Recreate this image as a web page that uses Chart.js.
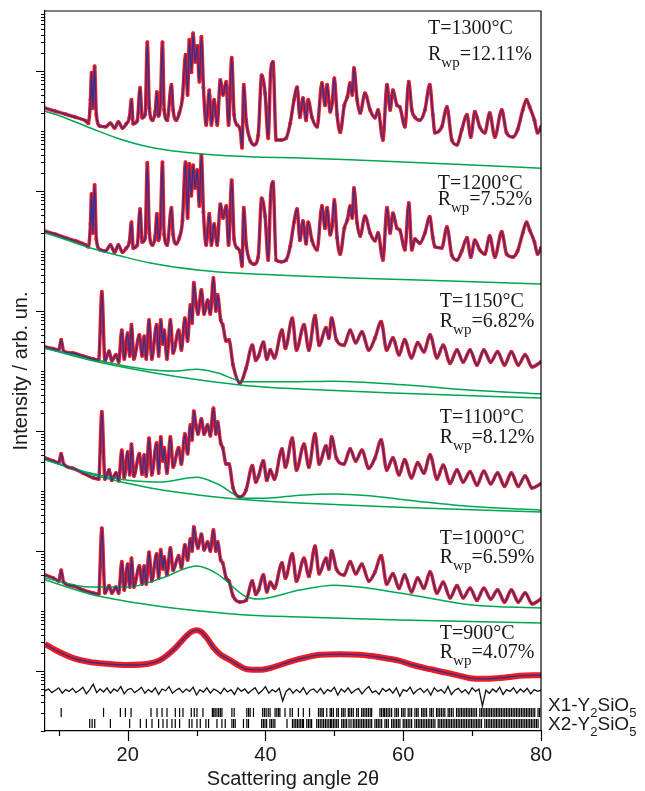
<!DOCTYPE html>
<html>
<head>
<meta charset="utf-8">
<title>Y2SiO5 XRD patterns</title>
<script src="https://cdn.jsdelivr.net/npm/chart.js@4.4.1/dist/chart.umd.min.js"></script>
<style>
  html, body { margin: 0; padding: 0; background: #fff; }
  canvas { display: block; }
</style>
</head>
<body>
<canvas id="xrd" width="645" height="791"></canvas>
<script>
// [2theta (deg), log10 intensity (decades, patterns stacked on the log axis)]
const p1300 = [[8.0,10.38],[9.5,10.33],[11.0,10.28],[12.4,10.23],[13.9,10.17],[14.3,10.13],[14.6,10.52],[14.75,10.97],[14.95,10.38],[15.2,11.08],[15.45,10.27],[16.0,10.08],[16.8,10.07],[17.5,10.13],[18.1,10.05],[18.65,10.15],[19.25,10.05],[19.8,10.12],[20.25,10.22],[20.55,10.52],[20.8,10.12],[21.4,10.17],[21.8,10.72],[22.1,10.22],[22.55,10.28],[22.85,11.48],[23.15,10.38],[23.6,10.18],[24.0,10.32],[24.25,10.65],[24.45,10.25],[24.75,10.45],[25.05,11.48],[25.3,10.35],[25.75,10.18],[26.35,10.77],[26.6,10.35],[27.05,10.18],[27.5,10.30],[27.95,10.55],[28.4,11.27],[28.7,10.60],[28.95,11.52],[29.25,10.98],[29.5,11.63],[29.8,11.15],[30.1,11.42],[30.4,10.82],[30.7,11.57],[31.0,10.72],[31.4,10.10],[31.85,10.68],[32.15,10.10],[32.55,10.52],[33.0,10.10],[33.45,10.85],[33.85,10.60],[34.3,10.82],[34.65,10.10],[35.1,11.22],[35.45,10.27],[35.9,10.10],[36.35,10.02],[36.6,9.72],[36.85,10.77],[37.2,10.18],[37.8,9.85],[38.35,9.77],[38.95,9.93],[39.45,10.93],[39.95,10.63],[40.4,9.88],[40.75,10.97],[41.1,11.15],[41.55,9.85],[42.3,9.85],[43.0,9.88],[43.6,10.13],[44.15,10.52],[44.6,10.73],[45.0,10.23],[45.45,10.55],[45.9,10.18],[46.2,10.52],[46.75,10.23],[47.5,10.07],[48.2,10.80],[48.65,10.43],[48.95,10.77],[49.4,10.32],[49.7,10.47],[50.0,10.88],[50.4,10.27],[50.85,9.98],[51.45,10.43],[51.9,10.57],[52.3,10.80],[52.6,10.60],[52.85,11.05],[53.3,10.52],[53.75,10.30],[54.45,10.63],[55.2,10.35],[55.9,10.22],[56.35,10.35],[57.05,9.85],[57.65,10.77],[58.1,10.35],[58.5,10.68],[59.1,10.43],[59.5,10.40],[60.25,10.07],[60.8,10.82],[61.25,10.35],[61.7,10.23],[62.4,10.18],[63.15,10.35],[63.85,10.77],[64.3,10.27],[64.6,9.97],[65.6,10.07],[66.35,10.40],[67.05,9.85],[67.8,9.77],[68.5,10.02],[69.25,10.27],[69.8,9.90],[70.4,10.32],[71.1,10.07],[71.85,9.97],[72.55,10.30],[73.3,9.90],[74.3,10.35],[75.0,9.97],[75.9,9.90],[76.6,10.02],[77.35,10.35],[77.9,10.52],[78.35,10.40],[79.05,10.18],[79.5,9.97],[80.0,10.07]];

const p1200 = [[8.0,8.33],[9.5,8.28],[11.0,8.22],[12.4,8.17],[13.9,8.10],[14.3,8.07],[14.6,8.45],[14.75,8.95],[14.95,8.30],[15.2,9.10],[15.45,8.20],[16.0,8.02],[16.8,8.00],[17.5,8.10],[18.1,7.98],[18.65,8.10],[19.25,7.98],[19.8,8.05],[20.25,8.15],[20.55,8.48],[20.8,8.05],[21.4,8.10],[21.8,8.70],[22.1,8.15],[22.55,8.22],[22.85,9.47],[23.15,8.30],[23.6,8.10],[24.0,8.25],[24.25,8.62],[24.45,8.18],[24.75,8.42],[25.05,9.48],[25.3,8.28],[25.75,8.10],[26.35,8.72],[26.6,8.28],[27.05,8.12],[27.5,8.22],[27.95,8.50],[28.4,9.48],[28.7,8.55],[28.95,9.45],[29.25,8.92],[29.5,9.43],[29.8,9.05],[30.1,9.35],[30.4,8.75],[30.7,9.60],[31.0,8.65],[31.4,8.10],[31.85,8.62],[32.15,8.10],[32.55,8.45],[33.0,8.10],[33.45,8.78],[33.85,8.55],[34.3,8.75],[34.65,8.10],[35.1,9.18],[35.45,8.20],[35.9,8.05],[36.35,7.97],[36.6,7.75],[36.85,8.72],[37.2,8.12],[37.8,7.82],[38.35,7.78],[38.95,7.90],[39.45,8.88],[39.95,8.58],[40.4,7.85],[40.75,8.92],[41.1,9.15],[41.55,7.85],[42.3,7.82],[43.0,7.85],[43.6,8.08],[44.15,8.48],[44.6,8.70],[45.0,8.18],[45.45,8.50],[45.9,8.12],[46.2,8.48],[46.75,8.18],[47.5,8.02],[48.2,8.75],[48.65,8.38],[48.95,8.72],[49.4,8.27],[49.7,8.42],[50.0,8.85],[50.4,8.22],[50.85,7.95],[51.45,8.38],[51.9,8.52],[52.3,8.75],[52.6,8.55],[52.85,9.05],[53.3,8.47],[53.75,8.25],[54.45,8.58],[55.2,8.30],[55.9,8.17],[56.35,8.30],[57.05,7.85],[57.65,8.72],[58.1,8.30],[58.5,8.63],[59.1,8.38],[59.5,8.35],[60.25,8.02],[60.8,8.80],[61.25,8.02],[61.7,8.20],[62.4,8.13],[63.15,8.30],[63.85,8.57],[64.3,8.22],[64.6,8.07],[65.6,8.05],[66.35,8.40],[67.05,7.93],[67.8,7.85],[68.5,8.00],[69.25,8.22],[69.8,7.90],[70.4,8.18],[71.1,8.02],[71.85,7.95],[72.55,8.25],[73.3,7.90],[74.3,8.32],[75.0,7.95],[75.9,7.90],[76.6,8.00],[77.35,8.30],[77.9,8.48],[78.35,8.35],[79.05,8.15],[79.5,7.95],[80.0,8.05]];

const p1150 = [[8.0,6.40],[9.2,6.37],[10.0,6.35],[10.35,6.52],[10.7,6.33],[12.0,6.30],[13.5,6.25],[15.0,6.20],[15.8,6.18],[16.25,7.32],[16.7,6.17],[17.3,6.33],[17.7,6.17],[18.3,6.27],[18.7,6.15],[19.15,6.68],[19.5,6.20],[20.0,6.63],[20.3,6.25],[20.55,6.77],[20.9,6.20],[21.7,6.60],[22.1,6.25],[22.4,6.58],[22.7,6.20],[23.1,6.85],[23.5,6.20],[24.2,6.77],[24.5,6.25],[24.8,6.85],[25.1,6.45],[25.3,6.68],[25.7,6.20],[26.2,6.85],[26.6,6.30],[27.4,6.68],[27.8,6.35],[28.3,6.88],[28.7,6.50],[29.1,7.10],[29.35,6.80],[29.6,7.47],[29.9,7.15],[30.2,6.95],[30.7,7.35],[31.1,6.95],[31.6,7.18],[32.0,6.95],[32.45,7.55],[32.8,7.00],[33.05,7.27],[33.5,6.85],[33.8,6.77],[34.3,6.50],[34.7,6.52],[35.3,6.10],[36.3,5.80],[37.2,6.05],[38.1,6.43],[38.6,6.18],[39.0,6.25],[39.7,6.48],[40.2,6.20],[40.7,6.35],[41.3,6.22],[42.4,6.68],[42.9,6.38],[43.9,6.88],[44.5,6.35],[45.6,6.77],[46.3,6.35],[47.2,6.92],[47.8,6.43],[48.8,6.72],[49.2,6.55],[49.6,6.88],[50.3,6.52],[51.4,6.43],[52.3,6.68],[53.1,6.47],[54.0,6.65],[55.0,6.35],[55.9,6.55],[56.8,6.82],[57.6,6.35],[58.5,6.55],[59.4,6.27],[60.2,6.52],[61.2,6.22],[62.1,6.47],[63.0,6.32],[63.9,6.60],[64.9,6.22],[65.8,6.43],[66.8,6.13],[67.8,6.35],[68.7,6.15],[69.7,6.35],[70.7,6.10],[71.7,6.35],[72.7,6.15],[73.7,6.32],[74.7,6.10],[75.7,6.32],[76.7,6.10],[77.7,6.27],[78.7,6.07],[80.0,6.15]];

const p1100 = [[8.0,4.55],[9.2,4.50],[10.0,4.47],[10.35,4.62],[10.7,4.45],[12.0,4.38],[13.5,4.30],[15.0,4.22],[15.8,4.20],[16.25,5.32],[16.7,4.20],[17.3,4.35],[17.7,4.18],[18.3,4.30],[18.7,4.17],[19.15,4.68],[19.5,4.22],[20.0,4.65],[20.3,4.27],[20.55,4.78],[20.9,4.25],[21.7,4.62],[22.1,4.28],[22.4,4.60],[22.7,4.25],[23.1,4.88],[23.5,4.27],[24.2,4.80],[24.5,4.30],[24.8,4.90],[25.1,4.50],[25.3,4.72],[25.7,4.30],[26.2,4.90],[26.6,4.40],[27.4,4.72],[27.8,4.45],[28.3,4.95],[28.7,4.62],[29.1,5.10],[29.35,4.85],[29.6,5.33],[29.9,5.10],[30.2,4.95],[30.7,5.20],[31.1,4.95],[31.6,5.10],[32.0,4.92],[32.45,5.38],[32.8,4.95],[33.05,5.15],[33.5,4.80],[33.8,4.72],[34.3,4.45],[34.7,4.45],[35.3,4.05],[36.3,3.90],[37.2,4.02],[38.1,4.42],[38.6,4.15],[39.0,4.25],[39.7,4.50],[40.2,4.18],[40.7,4.35],[41.3,4.20],[42.4,4.70],[42.9,4.40],[43.9,4.88],[44.5,4.35],[45.6,4.78],[46.3,4.40],[47.2,4.95],[47.8,4.45],[48.8,4.75],[49.2,4.55],[49.6,4.90],[50.3,4.55],[51.4,4.45],[52.3,4.70],[53.1,4.50],[54.0,4.68],[55.0,4.38],[55.9,4.55],[56.8,4.85],[57.6,4.35],[58.5,4.55],[59.4,4.27],[60.2,4.52],[61.2,4.22],[62.1,4.47],[63.0,4.30],[63.9,4.60],[64.9,4.20],[65.8,4.43],[66.8,4.13],[67.8,4.35],[68.7,4.15],[69.7,4.32],[70.7,4.10],[71.7,4.33],[72.7,4.12],[73.7,4.30],[74.7,4.08],[75.7,4.30],[76.7,4.08],[77.7,4.25],[78.7,4.05],[80.0,4.12]];

const p1000 = [[8.0,2.60],[9.2,2.55],[10.0,2.50],[10.35,2.68],[10.7,2.48],[12.0,2.42],[13.5,2.35],[15.0,2.30],[15.8,2.28],[16.25,3.38],[16.7,2.30],[17.3,2.42],[17.7,2.30],[18.3,2.40],[18.7,2.30],[19.15,2.82],[19.5,2.35],[20.0,2.78],[20.3,2.40],[20.55,2.88],[20.9,2.40],[21.7,2.75],[22.1,2.45],[22.4,2.75],[22.7,2.45],[23.1,2.98],[23.5,2.50],[24.2,2.95],[24.5,2.55],[24.8,3.02],[25.1,2.70],[25.3,2.90],[25.7,2.60],[26.2,3.05],[26.6,2.68],[27.4,2.92],[27.8,2.72],[28.3,3.10],[28.7,2.85],[29.1,3.20],[29.35,3.00],[29.6,3.40],[29.9,3.20],[30.2,3.05],[30.7,3.28],[31.1,3.02],[31.6,3.15],[32.0,3.00],[32.45,3.35],[32.8,3.00],[33.05,3.15],[33.5,2.85],[33.8,2.80],[34.3,2.55],[34.7,2.50],[35.3,2.25],[36.3,2.15],[37.2,2.18],[38.1,2.50],[38.6,2.28],[39.0,2.35],[39.7,2.60],[40.2,2.32],[40.7,2.48],[41.3,2.38],[42.4,2.80],[42.9,2.55],[43.9,2.95],[44.5,2.50],[45.6,2.88],[46.3,2.58],[47.2,3.08],[47.8,2.62],[48.8,2.88],[49.2,2.70],[49.6,3.00],[50.3,2.70],[51.4,2.60],[52.3,2.82],[53.1,2.62],[54.0,2.78],[55.0,2.50],[55.9,2.65],[56.8,2.92],[57.6,2.45],[58.5,2.62],[59.4,2.38],[60.2,2.60],[61.2,2.32],[62.1,2.55],[63.0,2.38],[63.9,2.65],[64.9,2.30],[65.8,2.48],[66.8,2.22],[67.8,2.42],[68.7,2.22],[69.7,2.38],[70.7,2.18],[71.7,2.38],[72.7,2.20],[73.7,2.35],[74.7,2.15],[75.7,2.35],[76.7,2.15],[77.7,2.30],[78.7,2.12],[80.0,2.20]];

const p900 = [[8.0,1.45],[9.5,1.35],[12.0,1.22],[14.5,1.15],[17.0,1.12],[20.0,1.10],[23.0,1.12],[24.7,1.18],[25.8,1.27],[26.9,1.38],[27.6,1.47],[28.5,1.58],[29.2,1.65],[30.0,1.68],[30.7,1.65],[31.5,1.55],[32.4,1.40],[33.4,1.28],[34.9,1.18],[36.3,1.08],[37.3,1.03],[39.2,1.02],[40.7,1.05],[42.1,1.10],[44.3,1.18],[46.0,1.23],[47.9,1.27],[50.8,1.28],[53.7,1.27],[56.6,1.23],[59.5,1.17],[61.4,1.10],[63.9,1.03],[66.3,0.97],[68.2,0.92],[69.7,0.88],[71.8,0.87],[73.6,0.88],[75.5,0.90],[76.9,0.92],[80.0,0.93]];

// backgrounds (green)
const bg1300 = [[8,10.33],[10.2,10.25],[14.6,10.05],[18.5,9.88],[23.3,9.73],[30.5,9.62],[37.8,9.57],[45,9.55],[52.3,9.52],[66.8,9.45],[80,9.38]];
const bg1200 = [[8,8.30],[10.2,8.22],[14.6,8.05],[18.9,7.92],[23.3,7.80],[30.5,7.68],[37.8,7.62],[52.3,7.55],[66.8,7.50],[80,7.45]];
const bg1150 = [[8,6.38],[14.6,6.18],[23.3,5.98],[30.5,5.85],[37.8,5.75],[45,5.70],[59.5,5.63],[80,5.55]];
const am1150 = [[8,6.38],[16,6.17],[23.3,6.02],[27,6.00],[30,6.03],[33,5.97],[37,5.82],[42,5.82],[50,5.83],[60,5.77],[70,5.68],[80,5.62]];
const bg1100 = [[8,4.52],[14.6,4.28],[23.3,4.05],[30.5,3.93],[37.8,3.85],[45,3.80],[59.5,3.73],[80,3.65]];
const am1100 = [[8,4.52],[14.6,4.30],[20,4.18],[25,4.15],[30,4.23],[33,4.12],[37,3.88],[40,3.88],[45,3.93],[50,3.95],[55,3.92],[62,3.83],[70,3.74],[80,3.68]];
const bg1000 = [[8,2.52],[14.6,2.28],[23.3,2.10],[30.5,2.00],[37.8,1.93],[45,1.90],[59.5,1.85],[80,1.80]];
const am1000 = [[8,2.55],[14.6,2.40],[20,2.40],[25,2.55],[30,2.75],[33,2.62],[37,2.25],[39,2.20],[45,2.35],[50,2.43],[55,2.38],[62,2.25],[70,2.10],[80,2.05]];

// difference curve (900 C fit), sampled every 0.5 deg from 8 deg
const diffStart = 8, diffStep = 0.5;
const diff900 = [0.67,0.70,0.64,0.68,0.72,0.63,0.69,0.66,0.71,0.64,
  0.68,0.73,0.62,0.69,0.78,0.64,0.70,0.65,0.72,0.63,
  0.70,0.66,0.74,0.62,0.69,0.71,0.64,0.68,0.73,0.63,
  0.69,0.65,0.72,0.61,0.70,0.67,0.74,0.63,0.68,0.71,
  0.64,0.70,0.66,0.73,0.60,0.69,0.65,0.72,0.63,0.70,
  0.67,0.62,0.71,0.65,0.69,0.61,0.72,0.66,0.70,0.63,
  0.68,0.72,0.62,0.67,0.74,0.63,0.69,0.65,0.71,0.50,
  0.66,0.71,0.63,0.69,0.64,0.72,0.61,0.68,0.70,0.64,
  0.71,0.62,0.69,0.66,0.73,0.60,0.70,0.65,0.72,0.63,
  0.68,0.71,0.62,0.69,0.74,0.64,0.67,0.61,0.71,0.66,
  0.70,0.63,0.72,0.58,0.69,0.66,0.73,0.62,0.68,0.71,
  0.64,0.70,0.60,0.72,0.66,0.69,0.63,0.74,0.61,0.68,
  0.71,0.64,0.69,0.62,0.72,0.66,0.70,0.42,0.68,0.63,
  0.70,0.65,0.73,0.61,0.69,0.66,0.72,0.63,0.70,0.65,
  0.71,0.62,0.69,0.66,0.68];

// Bragg reflection positions (deg)
const reflX1 = [10.35,16.5,18.94,19.67,20.49,23.39,24.26,24.99,25.71,26.91,27.54,28.03,29.23,29.67,30.06,30.93,32.3,32.5,32.7,32.96,33.2,33.45,33.68,35.13,35.46,37.3,37.55,37.78,38.26,39.6,39.85,40.1,40.4,40.67,41.4,41.65,41.9,42.1,42.84,43.57,43.9,44.78,45.5,46.4,47.7,47.95,48.2,48.4,48.9,49.4,49.6,49.86,
  50.35,50.58,51.07,51.3,51.55,52.03,52.25,52.5,52.75,53.25,53.48,53.97,54.2,54.45,54.7,54.95,55.2,55.42,56.62,56.85,57.1,57.3,57.55,57.8,58.05,58.32,58.8,59.05,59.28,59.77,60.0,60.25,60.72,60.97,61.22,61.7,61.95,62.17,62.67,62.9,63.15,63.39,63.87,64.1,64.35,64.84,65.05,65.3,65.55,65.8,66.04,66.52,66.75,67.0,67.25,67.74,67.98,68.22,68.46,68.7,68.94,69.18,69.42,69.66,69.91,70.14,70.4,70.64,71.12,71.36,71.6,71.85,72.09,72.32,72.56,72.8,73.05,73.3,73.53,73.77,74.01,74.25,74.5,74.74,74.98,75.22,75.46,75.71,75.95,76.19,76.43,76.67,76.91,77.16,77.4,77.64,77.88,78.12,78.36,78.6,78.85,79.09,79.57,79.8];
const reflX2 = [14.49,14.84,15.22,17.49,20.29,21.84,22.71,23.53,24.49,25.13,25.71,26.43,26.91,27.54,28.94,29.33,30.06,30.54,31.36,31.74,32.96,33.68,34.16,35.13,35.37,35.61,36.81,37.3,37.54,39.45,39.7,39.93,40.17,40.64,40.88,41.12,41.37,43.13,43.92,44.16,44.4,44.64,44.88,45.12,45.36,45.52,46.0,46.24,46.48,46.7,47.45,47.7,47.95,48.2,48.45,48.7,48.95,49.2,49.45,49.62,49.86,
  50.1,50.34,50.58,51.07,51.31,51.55,51.79,52.13,52.42,52.75,52.99,53.24,53.48,53.72,53.97,54.21,54.45,54.69,54.93,55.18,55.42,55.9,56.14,56.38,56.62,56.87,57.35,57.59,57.83,58.32,58.56,58.8,59.04,59.28,59.52,60.0,60.24,60.48,60.72,60.97,61.22,61.7,61.94,62.18,62.42,62.66,62.9,63.14,63.39,63.63,63.87,64.11,64.35,64.6,65.08,65.32,65.56,65.8,66.05,66.29,66.52,66.76,67.0,67.25,67.49,67.73,67.97,68.21,68.46,68.7,68.94,69.18,69.43,69.67,69.91,70.15,70.4,70.64,70.88,71.12,71.36,71.85,72.09,72.33,72.57,72.81,73.06,73.3,73.53,73.77,74.01,74.25,74.5,74.74,74.98,75.22,75.46,75.71,75.95,76.19,76.43,76.67,76.91,77.15,77.39,77.64,77.88,78.12,78.36,78.6,78.84,79.09,79.33,79.57];

const tempLabels = ['T=1300°C', 'T=1200°C', 'T=1150°C', 'T=1100°C', 'T=1000°C', 'T=900°C'];
const rwpLabels = ['=12.11%', '=7.52%', '=6.82%', '=8.12%', '=6.59%', '=4.07%'];
const phaseLabels = ['X1', 'X2'];
const xTickValues = [10, 20, 30, 40, 50, 60, 70, 80];
const decades = [0, 1, 2, 3, 4, 5, 6, 7, 8, 9, 10, 11];
const minorMult = [1, 2, 3, 4, 5, 6, 7, 8, 9];

// layout of the annotations: [angle, decade of T line, decade of Rwp line]
const annotAt = [[63.6, 11.62, 11.18], [65.0, 9.03, 8.77], [65.3, 7.07, 6.73], [65.3, 5.13, 4.80], [65.3, 3.12, 2.80], [65.3, 1.53, 1.22]];
const rowX1 = 0.31, rowX2 = 0.125;

const red = '#ec1c24', blue = '#2e3192', green = '#00a651';
const sans = '"Liberation Sans", Arial, sans-serif';
const serif = '"Liberation Serif", "Times New Roman", serif';

function xy(list) {
  return list.map(p => ({x: p[0], y: p[1]}));
}

const datasets = [];
[p1300, p1200, p1150, p1100, p1000].forEach(p => {
  datasets.push({data: xy(p), borderColor: red, borderWidth: 3.5, pointRadius: 2,
    pointBackgroundColor: red, pointBorderWidth: 0, borderJoinStyle: 'round', borderCapStyle: 'round',
    cubicInterpolationMode: 'monotone', order: 5});
  datasets.push({data: xy(p), borderColor: blue, borderWidth: 1.3, pointRadius: 0,
    borderJoinStyle: 'round', cubicInterpolationMode: 'monotone', order: 1});
});
datasets.push({data: xy(p900), borderColor: red, borderWidth: 6, pointRadius: 0,
  cubicInterpolationMode: 'monotone', order: 5});
datasets.push({data: xy(p900), borderColor: blue, borderWidth: 1.3, pointRadius: 0,
  cubicInterpolationMode: 'monotone', order: 1});

[bg1300, bg1200, bg1150, am1150, bg1100, am1100, bg1000, am1000].forEach(b => {
  datasets.push({data: xy(b), borderColor: green, borderWidth: 1.5, pointRadius: 0,
    cubicInterpolationMode: 'monotone', order: 3});
});

datasets.push({
  data: diff900.map((v, i) => ({x: diffStart + i * diffStep, y: v})),
  borderColor: '#111', borderWidth: 1.3, pointRadius: 0, order: 2
});

[[reflX1, rowX1], [reflX2, rowX2]].forEach(([list, row]) => {
  datasets.push({data: list.map(a => ({x: a, y: row})), showLine: false,
    pointStyle: 'line', rotation: 90, pointRadius: 4.5,
    pointBorderColor: '#000', pointBorderWidth: 1.2, order: 2});
});

// draws one line of text with subscripted parts
function drawParts(ctx, parts, x, y, size, subSize, subDrop, family) {
  parts.forEach(([txt, sub]) => {
    ctx.font = (sub ? subSize : size) + 'px ' + family;
    ctx.fillText(txt, x, sub ? y + subDrop : y);
    x += ctx.measureText(txt).width;
  });
}

const decor = {
  id: 'decor',
  afterDraw(chart) {
    const {ctx, chartArea: a, scales: {x, y}} = chart;
    ctx.save();
    ctx.strokeStyle = '#000';
    ctx.lineWidth = 1.2;
    ctx.beginPath();
    ctx.moveTo(a.left, a.top);
    ctx.lineTo(a.right, a.top);
    ctx.lineTo(a.right, a.bottom);
    xTickValues.forEach(v => {
      const px = Math.round(x.getPixelForValue(v)) + 0.5;
      const len = v % 20 === 0 ? 10 : 5;
      ctx.moveTo(px, a.bottom);
      ctx.lineTo(px, a.bottom + len);
    });
    decades.forEach(k => {
      minorMult.forEach(m => {
        const py = Math.round(y.getPixelForValue(k + Math.log10(m))) + 0.5;
        const len = (m === 1 && k % 2 === 1) ? 9 : 4;
        ctx.moveTo(a.left - len, py);
        ctx.lineTo(a.left, py);
      });
    });
    ctx.stroke();

    ctx.fillStyle = '#1a1a1a';
    ctx.textBaseline = 'alphabetic';
    ctx.textAlign = 'left';
    tempLabels.forEach((t, i) => {
      const [ang, yT, yR] = annotAt[i];
      const px = x.getPixelForValue(ang);
      drawParts(ctx, [[t, false]], px, y.getPixelForValue(yT), 20, 14, 7, serif);
      drawParts(ctx, [['R', false], ['wp', true], [rwpLabels[i], false]], px, y.getPixelForValue(yR), 20, 15, 7, serif);
    });
    phaseLabels.forEach((ph, i) => {
      const base = i === 0 ? 711 : 730;
      drawParts(ctx, [[ph + '-Y', false], ['2', true], ['SiO', false], ['5', true]], a.right + 7, base, 19, 13, 6, sans);
    });
    ctx.restore();
  }
};

new Chart(document.getElementById('xrd'), {
  type: 'line',
  data: {datasets},
  plugins: [decor],
  options: {
    responsive: false,
    animation: false,
    devicePixelRatio: 1,
    layout: {padding: {top: 11, right: 104, left: 0, bottom: 0}},
    plugins: {legend: {display: false}, tooltip: {enabled: false}},
    elements: {line: {tension: 0}},
    scales: {
      x: {
        type: 'linear', min: 8, max: 80,
        afterBuildTicks: s => { s.ticks = xTickValues.map(v => ({value: v})); },
        afterFit: s => { s.height = 60; },
        grid: {display: true, drawOnChartArea: false, drawTicks: true, tickLength: 10, color: 'rgba(0,0,0,0)'},
        border: {display: true, color: '#000', width: 1.2},
        ticks: {font: {family: sans, size: 20}, color: '#1a1a1a', padding: 2, maxRotation: 0, autoSkip: false,
          callback: v => (v % 20 === 0 ? String(v) : '')},
        title: {display: true, text: 'Scattering angle 2θ', color: '#1a1a1a',
          font: {family: sans, size: 20}, padding: {top: 0, bottom: 0}}
      },
      y: {
        type: 'linear', min: 0, max: 12,
        afterFit: s => { s.width = 45; },
        grid: {display: false},
        border: {display: true, color: '#000', width: 1.2},
        ticks: {display: false},
        title: {display: true, text: 'Intensity / arb. un.', color: '#1a1a1a',
          font: {family: sans, size: 20}, padding: {top: 9, bottom: 0}}
      }
    }
  }
});
</script>
</body>
</html>
